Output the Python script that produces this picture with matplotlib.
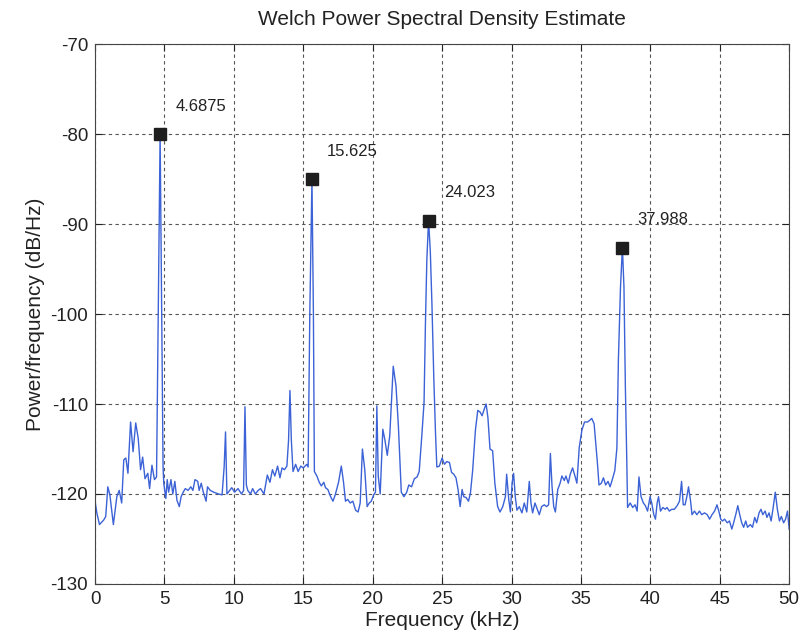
import matplotlib
matplotlib.use("Agg")
import matplotlib.pyplot as plt

# Welch PSD estimate (kHz, dB/Hz)
freq_khz = [
    0.0, 0.02, 0.13, 0.32, 0.62, 0.77, 0.92, 1.07, 1.32, 1.57, 1.74, 1.92,
    2.07, 2.22, 2.37, 2.56, 2.74, 2.93, 3.11, 3.28, 3.43, 3.6, 3.8, 3.93,
    4.1, 4.28, 4.43, 4.55, 4.6875, 4.8, 4.9, 4.95, 5.1, 5.2, 5.3, 5.47,
    5.6, 5.75, 5.9, 6.07, 6.2, 6.35, 6.5, 6.7, 6.9, 7.05, 7.2, 7.4,
    7.5, 7.65, 7.8, 8.0, 8.1, 8.3, 8.55, 8.9, 9.15, 9.3, 9.4, 9.5,
    9.7, 9.85, 10.05, 10.3, 10.55, 10.7, 10.8, 10.9, 11.0, 11.2, 11.35, 11.55,
    11.75, 11.92, 12.17, 12.41, 12.6, 12.78, 12.95, 13.15, 13.32, 13.47, 13.64, 13.82,
    13.94, 14.04, 14.14, 14.26, 14.45, 14.63, 14.82, 15.0, 15.25, 15.35, 15.47, 15.625,
    15.73, 15.8, 15.98, 16.15, 16.3, 16.48, 16.6, 16.77, 16.97, 17.14, 17.3, 17.54,
    17.74, 17.9, 18.04, 18.2, 18.38, 18.57, 18.77, 18.95, 19.1, 19.26, 19.43, 19.6,
    19.75, 19.9, 20.07, 20.2, 20.3, 20.4, 20.54, 20.73, 20.88, 21.05, 21.23, 21.48,
    21.68, 21.85, 22.06, 22.25, 22.45, 22.6, 22.8, 23.0, 23.2, 23.35, 23.54, 23.7,
    23.8, 23.9, 24.023, 24.15, 24.27, 24.4, 24.52, 24.62, 24.8, 25.0, 25.17, 25.33,
    25.53, 25.68, 25.84, 26.0, 26.15, 26.3, 26.44, 26.56, 26.73, 26.9, 27.04, 27.2,
    27.4, 27.57, 27.74, 27.88, 28.05, 28.17, 28.3, 28.45, 28.64, 28.8, 29.0, 29.17,
    29.37, 29.56, 29.65, 29.8, 29.92, 30.04, 30.15, 30.27, 30.39, 30.56, 30.75, 30.92,
    31.1, 31.28, 31.4, 31.52, 31.69, 31.83, 32.0, 32.17, 32.36, 32.53, 32.67, 32.8,
    32.92, 33.04, 33.16, 33.33, 33.5, 33.63, 33.8, 33.92, 34.09, 34.23, 34.4, 34.57,
    34.71, 34.88, 35.07, 35.26, 35.47, 35.64, 35.78, 35.95, 36.07, 36.19, 36.3, 36.47,
    36.62, 36.78, 36.95, 37.1, 37.26, 37.44, 37.59, 37.7, 37.85, 37.988, 38.1, 38.2,
    38.3, 38.36, 38.55, 38.73, 38.9, 39.05, 39.18, 39.33, 39.5, 39.64, 39.8, 39.98,
    40.1, 40.25, 40.37, 40.49, 40.59, 40.73, 40.9, 41.07, 41.2, 41.37, 41.54, 41.73,
    41.93, 42.1, 42.25, 42.37, 42.5, 42.63, 42.75, 42.9, 43.0, 43.18, 43.35, 43.54,
    43.7, 43.9, 44.1, 44.27, 44.44, 44.63, 44.8, 44.93, 45.07, 45.2, 45.35, 45.54,
    45.7, 45.87, 46.0, 46.15, 46.3, 46.44, 46.58, 46.72, 46.87, 47.0, 47.2, 47.36,
    47.52, 47.66, 47.83, 47.97, 48.1, 48.27, 48.4, 48.55, 48.7, 48.83, 49.0, 49.15,
    49.3, 49.44, 49.6, 49.74, 49.88, 50.0,
]
psd_db = [
    -126.2, -121.0, -122.1, -123.4, -122.9, -122.5, -119.2, -120.1, -123.4, -120.3, -119.6, -121.0,
    -116.2, -116.0, -117.7, -112.0, -115.3, -112.1, -113.8, -117.3, -115.9, -118.3, -117.7, -119.4,
    -116.8, -118.4, -118.1, -100.0, -80.0, -100.0, -117.0, -118.8, -120.5, -118.4, -119.8, -118.4,
    -120.0, -118.6, -120.7, -121.4, -120.3, -119.8, -119.4, -119.6, -119.2, -119.6, -118.4, -118.6,
    -119.6, -118.8, -119.8, -120.8, -119.2, -119.6, -119.8, -120.0, -120.1, -117.0, -113.1, -120.0,
    -119.6, -119.3, -119.8, -119.4, -120.0, -119.6, -110.3, -119.0, -119.6, -120.0, -119.4, -120.0,
    -119.6, -119.4, -120.0, -117.9, -118.7, -117.3, -118.0, -116.9, -118.2, -117.1, -117.3, -116.9,
    -114.0, -108.5, -114.0, -117.5, -116.7, -117.5, -116.9, -117.1, -116.7, -117.0, -100.0, -85.0,
    -100.0, -117.5, -118.0, -118.7, -119.1, -118.7, -119.3, -119.5, -120.3, -120.8, -120.1, -118.7,
    -116.9, -118.7, -120.8, -120.6, -121.0, -120.8, -121.8, -122.0, -121.0, -115.0, -117.3, -121.4,
    -121.0, -120.8, -120.1, -119.8, -110.2, -118.0, -120.0, -112.8, -114.0, -115.7, -113.5, -105.8,
    -108.0, -112.4, -119.8, -120.3, -119.8, -119.0, -119.2, -118.3, -118.1, -117.5, -113.5, -109.8,
    -101.0, -94.0, -89.6, -93.0, -99.0, -107.0, -113.0, -117.0, -116.9, -116.0, -116.7, -116.4,
    -116.5, -117.6, -117.8, -118.2, -119.5, -121.4, -119.5, -120.3, -120.4, -120.8, -119.9, -117.4,
    -112.9, -110.7, -110.9, -111.3, -110.5, -110.0, -111.5, -115.0, -115.2, -118.8, -121.4, -122.0,
    -121.4, -120.3, -117.8, -120.6, -122.0, -118.8, -117.7, -120.3, -121.8, -121.4, -122.1, -121.0,
    -122.0, -118.6, -121.0, -122.1, -121.0, -121.6, -122.3, -121.4, -121.2, -121.4, -121.2, -115.5,
    -119.2, -121.4, -122.0, -119.5, -118.8, -118.0, -118.5, -118.0, -118.8, -117.8, -117.1, -118.0,
    -118.8, -114.8, -112.9, -112.0, -112.0, -111.8, -111.6, -112.2, -114.4, -116.6, -119.0, -118.8,
    -118.2, -119.0, -118.6, -119.2, -118.4, -117.4, -114.9, -105.0, -97.0, -92.6, -97.0, -108.0,
    -116.0, -121.5, -121.0, -121.5, -121.2, -121.9, -118.1, -120.3, -121.0, -121.3, -121.9, -120.3,
    -121.0, -122.3, -122.8, -121.0, -120.3, -121.9, -121.5, -121.7, -121.5, -121.9, -121.7, -121.7,
    -121.3, -120.8, -118.6, -121.2, -121.2, -120.3, -119.2, -120.8, -122.3, -121.9, -122.3, -121.9,
    -122.3, -122.1, -122.3, -122.8, -122.3, -121.9, -121.2, -121.9, -122.8, -123.0, -122.8, -123.2,
    -123.0, -123.9, -123.2, -122.3, -121.3, -122.3, -123.2, -123.7, -123.0, -123.7, -123.4, -123.7,
    -122.6, -123.2, -122.1, -121.7, -122.3, -121.9, -122.6, -122.1, -123.0, -121.7, -119.8, -121.7,
    -123.0, -122.5, -123.2, -122.8, -121.9, -123.9,
]

# detected peaks
peak_freq = [4.6875, 15.625, 24.023, 37.988]
peak_db = [-80.0, -85.0, -89.6, -92.6]

plt.rcParams['font.family'] = ['Liberation Sans', 'DejaVu Sans']
plt.rcParams['axes.unicode_minus'] = False

fig = plt.figure(figsize=(8.02, 6.41), dpi=100)
ax = fig.add_axes([0.1185, 0.089, 0.8655, 0.842])

ax.plot(freq_khz, psd_db, color='#3b62d6', linewidth=1.0)
ax.plot(peak_freq, peak_db, 's', color='#1e1e1e', markersize=8.5)
for f, p in zip(peak_freq, peak_db):
    ax.text(f + 1.1, p + 3.1, f'{f:g}', fontsize=12, ha='left', va='center', color='#222222')

ax.set_xlim(0, 50)
ax.set_ylim(-130, -70)
ax.set_xticks(range(0, 51, 5))
ax.set_yticks(range(-130, -69, 10))
ax.grid(True, color='#555555', linestyle=(0, (3, 3)), linewidth=0.8)
ax.tick_params(direction='in', top=True, right=True, labelsize=13.5, colors='#222222', pad=5, length=5)
for s in ax.spines.values():
    s.set_color('#444444')

ax.set_title('Welch Power Spectral Density Estimate', fontsize=15, color='#222222', pad=14)
ax.set_xlabel('Frequency (kHz)', fontsize=15, color='#222222', labelpad=2)
ax.set_ylabel('Power/frequency (dB/Hz)', fontsize=15, color='#222222', labelpad=4)

fig.savefig('out.png', dpi=100)
